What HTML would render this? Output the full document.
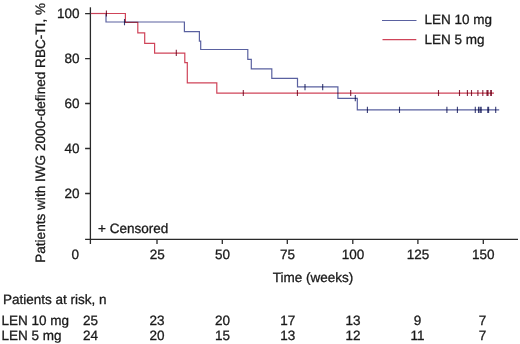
<!DOCTYPE html>
<html><head><meta charset="utf-8">
<style>
html,body{margin:0;padding:0;background:#fff;}
body{width:520px;height:344px;overflow:hidden;}
svg{display:block;filter:blur(0.3px);}
text{font-family:"Liberation Sans",sans-serif;font-size:13.5px;fill:#1a1a1a;text-rendering:geometricPrecision;stroke:#1a1a1a;stroke-width:0.3px;}
.mul{mix-blend-mode:multiply;}
</style></head>
<body>
<svg width="520" height="344" viewBox="0 0 520 344">
<text transform="translate(44.6,132.9) rotate(-90)" text-anchor="middle" style="font-size:13.6px">Patients with IWG 2000-defined RBC-TI, %</text>
<g stroke="#2a2a2a" stroke-width="1.3" fill="none">
  <path d="M90.4 7.3 V239.4"/>
  <path d="M85.1 239.4 H518"/>
  <path d="M85.1 13.6 H90.4 M85.1 58.6 H90.4 M85.1 103.5 H90.4 M85.1 148.5 H90.4 M85.1 193.5 H90.4"/>
  <path d="M90.4 239.4 V244 M157 239.4 V244 M222.3 239.4 V244 M287.3 239.4 V244 M352.8 239.4 V244 M417.9 239.4 V244 M483.3 239.4 V244"/>
</g>
<text transform="translate(79.5,18.3) scale(1,1.0)" text-anchor="end">100</text>
<text transform="translate(79.5,63.3) scale(1,1.0)" text-anchor="end">80</text>
<text transform="translate(79.5,107.9) scale(1,1.0)" text-anchor="end">60</text>
<text transform="translate(79.5,152.9) scale(1,1.0)" text-anchor="end">40</text>
<text transform="translate(79.5,197.9) scale(1,1.0)" text-anchor="end">20</text>
<text transform="translate(75.2,259.2) scale(1,1.0)" text-anchor="middle">0</text>
<text transform="translate(157.3,259.2) scale(1,1.0)" text-anchor="middle">25</text>
<text transform="translate(222.5,259.2) scale(1,1.0)" text-anchor="middle">50</text>
<text transform="translate(287.5,259.2) scale(1,1.0)" text-anchor="middle">75</text>
<text transform="translate(353,259.2) scale(1,1.0)" text-anchor="middle">100</text>
<text transform="translate(418,259.2) scale(1,1.0)" text-anchor="middle">125</text>
<text transform="translate(483.3,259.2) scale(1,1.0)" text-anchor="middle">150</text>
<text transform="translate(313,281.7) scale(1,1.0)" text-anchor="middle">Time (weeks)</text>
<text transform="translate(98,233.1) scale(1,1.0)">+ Censored</text>
<path d="M382 20.5 H416.5" stroke="#5a61a0" stroke-width="1.2"/>
<path d="M382.5 39.7 H416.3" stroke="#cf4459" stroke-width="1.2"/>
<text transform="translate(424.5,24.1) scale(1,1.0)">LEN 10 mg</text>
<text transform="translate(424.5,43.6) scale(1,1.0)">LEN 5 mg</text>
<path fill="none" stroke="#5a61a0" stroke-width="1.2" d="M90.4 13.5 H106 V22.0 H184.4 V31.7 H199.4 V41.1 H200.7 V49.5 H247.8 V59.3 H251.3 V68.8 H271.8 V78.3 H297.5 V86.9 H337.9 V98.3 H357.3 V109.8 H499.2"/>
<path class="mul" fill="none" stroke="#cf4459" stroke-width="1.2" d="M90.4 13.5 H125.4 V22.3 H137.8 V32.8 H144.7 V43.4 H154.6 V53.1 H184.8 V62.7 H187.3 V82.9 H216.8 V93.1 H494"/>
<path fill="none" stroke="#c94258" stroke-width="1.2" d="M91 13.5 H106"/>
<g stroke="#3a3f78" stroke-width="1.1" class="mul"><path d="M124.5 19.0 V25.2 M305 84.0 V90.2 M322.7 84.0 V90.2 M355.3 95.1 V101.3 M367.4 106.7 V112.9 M399.5 106.7 V112.9 M446.9 106.7 V112.9 M457.4 106.7 V112.9 M475.3 106.7 V112.9 M478.5 106.7 V112.9 M480 106.7 V112.9 M481.2 106.7 V112.9 M487.8 106.7 V112.9 M488.6 106.7 V112.9 M495.7 106.7 V112.9"/></g>
<g stroke="#8a2540" stroke-width="1.1" class="mul"><path d="M106.4 10.4 V16.6 M176.3 49.7 V55.9 M243.3 89.9 V96.0 M297.4 89.9 V96.0 M350.7 89.9 V96.0 M438.5 89.9 V96.0 M459.5 89.9 V96.0 M467.4 89.9 V96.0 M471.5 89.9 V96.0 M477.9 89.9 V96.0 M482.8 89.9 V96.0 M487 89.9 V96.0 M488 89.9 V96.0 M490.7 89.9 V96.0 M491.4 89.9 V96.0"/></g>
<text transform="translate(3,303.5) scale(1,1.0)">Patients at risk, n</text>
<text transform="translate(1.5,324.6) scale(1,1.0)">LEN 10 mg</text>
<text transform="translate(1.5,339.9) scale(1,1.0)">LEN 5 mg</text>
<text transform="translate(90.4,324.6) scale(1,1.0)" text-anchor="middle">25</text>
<text transform="translate(90.4,339.9) scale(1,1.0)" text-anchor="middle">24</text>
<text transform="translate(157.1,324.6) scale(1,1.0)" text-anchor="middle">23</text>
<text transform="translate(157.1,339.9) scale(1,1.0)" text-anchor="middle">20</text>
<text transform="translate(222.5,324.6) scale(1,1.0)" text-anchor="middle">20</text>
<text transform="translate(222.5,339.9) scale(1,1.0)" text-anchor="middle">15</text>
<text transform="translate(287.8,324.6) scale(1,1.0)" text-anchor="middle">17</text>
<text transform="translate(287.8,339.9) scale(1,1.0)" text-anchor="middle">13</text>
<text transform="translate(353,324.6) scale(1,1.0)" text-anchor="middle">13</text>
<text transform="translate(353,339.9) scale(1,1.0)" text-anchor="middle">12</text>
<text transform="translate(417.5,324.6) scale(1,1.0)" text-anchor="middle">9</text>
<text transform="translate(417.5,339.9) scale(1,1.0)" text-anchor="middle">11</text>
<text transform="translate(482.5,324.6) scale(1,1.0)" text-anchor="middle">7</text>
<text transform="translate(482.5,339.9) scale(1,1.0)" text-anchor="middle">7</text>
</svg>
</body></html>
